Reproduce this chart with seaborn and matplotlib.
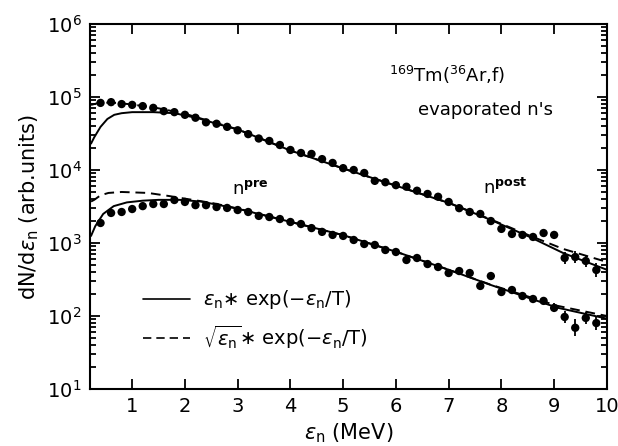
import numpy as np
import pandas as pd
import matplotlib
matplotlib.use("Agg")
import matplotlib.pyplot as plt
from matplotlib.lines import Line2D
from matplotlib.ticker import LogLocator, NullFormatter
import seaborn as sns

# measured spectra (points every 0.2 MeV) ----
energy = [0.4, 0.6, 0.8, 1.0, 1.2, 1.4, 1.6, 1.8, 2.0, 2.2, 2.4, 2.6, 2.8, 3.0, 3.2, 3.4,
          3.6, 3.8, 4.0, 4.2, 4.4, 4.6, 4.8, 5.0, 5.2, 5.4, 5.6, 5.8, 6.0, 6.2, 6.4, 6.6,
          6.8, 7.0, 7.2, 7.4, 7.6, 7.8, 8.0, 8.2, 8.4, 8.6, 8.8, 9.0, 9.2, 9.4, 9.6, 9.8]

upper = [8.3e4, 8.5e4, 8.0e4, 7.8e4, 7.5e4, 7.1e4, 6.4e4, 6.2e4, 5.7e4, 5.2e4, 4.5e4, 4.3e4,
         3.9e4, 3.5e4, 3.1e4, 2.7e4, 2.5e4, 2.2e4, 1.88e4, 1.71e4, 1.66e4, 1.41e4, 1.25e4,
         1.06e4, 1.0e4, 9.1e3, 7.1e3, 6.8e3, 6.2e3, 5.9e3, 5.2e3, 4.7e3, 4.3e3, 3.65e3,
         3.0e3, 2.66e3, 2.5e3, 2.0e3, 1.56e3, 1.33e3, 1.29e3, 1.21e3, 1.37e3, 1.29e3,
         624, 643, 567, 427]

lower = [1.88e3, 2.58e3, 2.66e3, 2.92e3, 3.2e3, 3.42e3, 3.42e3, 3.88e3, 3.65e3, 3.3e3, 3.3e3,
         3.11e3, 3.02e3, 2.83e3, 2.66e3, 2.35e3, 2.27e3, 2.13e3, 1.94e3, 1.82e3, 1.6e3, 1.42e3,
         1.29e3, 1.25e3, 1.1e3, 969, 940, 802, 753, 585, 623, 515, 469, 388, 413, 388, 258,
         353, 213, 227, 188, 171, 161, 129, 97, 69, 94, 80]

# relative error bars on the last few points
upper_err_E = [9.2, 9.4, 9.6, 9.8]
upper_err = [0.2, 0.2, 0.2, 0.25]
lower_err_E = [9.0, 9.2, 9.4, 9.6, 9.8]
lower_err = [0.15, 0.2, 0.3, 0.2, 0.25]

# fitted curves ----
up_solid_E = [0.22, 0.28, 0.4, 0.53, 0.66, 0.8, 1.0, 1.4, 1.8, 2.05, 2.3, 2.6, 3.0, 4, 5, 6, 7, 7.8, 8.55, 9.17, 10]
up_solid = [2.3e4, 2.8e4, 3.9e4, 5.0e4, 5.7e4, 6.0e4, 6.2e4, 6.2e4, 6.0e4, 5.5e4, 5.0e4, 4.3e4, 3.6e4,
            1.85e4, 1.05e4, 6.1e3, 3.55e3, 2.07e3, 1.2e3, 730, 430]
up_dash_E = [0.22, 0.4, 0.7, 1.0, 1.5, 2.0, 2.5, 3.0, 4, 5, 6, 7, 7.8, 8.55, 9.17, 10]
up_dash = [7.8e4, 8.4e4, 8.3e4, 7.9e4, 7.0e4, 5.9e4, 4.6e4, 3.6e4, 1.85e4, 1.05e4, 6.1e3, 3.55e3,
           2.1e3, 1.25e3, 830, 550]
lo_solid_E = [0.22, 0.3, 0.45, 0.65, 0.9, 1.2, 1.5, 1.9, 2.3, 3.0, 4, 5, 6, 7, 7.8, 9.06, 10]
lo_solid = [1.25e3, 1.7e3, 2.5e3, 3.2e3, 3.6e3, 3.8e3, 3.9e3, 3.9e3, 3.7e3, 2.95e3, 1.95e3, 1.28e3,
            760, 430, 266, 130, 92]
lo_dash_E = [0.22, 0.28, 0.4, 0.55, 0.8, 1.3, 1.7, 2.0, 2.5, 3.0, 4, 5, 6, 7, 7.8, 9.06, 10]
lo_dash = [3.7e3, 3.9e3, 4.5e3, 4.85e3, 5.0e3, 4.85e3, 4.4e3, 4.05e3, 3.55e3, 2.97e3, 1.95e3, 1.28e3,
           760, 430, 268, 138, 100]

curves = pd.concat([
    pd.DataFrame({'E': up_solid_E, 'y': up_solid, 'curve': 'up_solid', 'kind': 'solid'}),
    pd.DataFrame({'E': up_dash_E, 'y': up_dash, 'curve': 'up_dash', 'kind': 'dashed'}),
    pd.DataFrame({'E': lo_solid_E, 'y': lo_solid, 'curve': 'lo_solid', 'kind': 'solid'}),
    pd.DataFrame({'E': lo_dash_E, 'y': lo_dash, 'curve': 'lo_dash', 'kind': 'dashed'}),
], ignore_index=True)

sns.set_style("ticks", {'axes.edgecolor': 'black', 'text.color': 'black', 'axes.labelcolor': 'black',
                        'xtick.color': 'black', 'ytick.color': 'black'})
plt.rcParams['font.family'] = ['DejaVu Sans']
plt.rcParams['mathtext.fontset'] = 'dejavusans'

fig = plt.figure(figsize=(6.18, 4.46), dpi=100)
ax = fig.add_axes([0.1456, 0.1278, 0.8364, 0.8184])

sns.lineplot(data=curves, x='E', y='y', units='curve', style='kind', estimator=None, sort=False,
             color='black', linewidth=1.4, dashes={'solid': '', 'dashed': (5, 3)}, legend=False, ax=ax)

sns.scatterplot(x=energy, y=upper, color='black', s=36, edgecolor='none', zorder=3, ax=ax)
sns.scatterplot(x=energy, y=lower, color='black', s=36, edgecolor='none', zorder=3, ax=ax)

# error bars
for E_list, rel, series in [(upper_err_E, upper_err, upper), (lower_err_E, lower_err, lower)]:
    yv = np.array([series[energy.index(e)] for e in E_list])
    r = np.array(rel)
    ax.errorbar(E_list, yv, yerr=[yv * r / (1 + r), yv * r], fmt='none', ecolor='black',
                elinewidth=1.3, capsize=0, zorder=3)

ax.set_yscale('log')
ax.set_xlim(0.2, 10)
ax.set_ylim(10, 1e6)
ax.set_xticks(range(1, 11))
ax.yaxis.set_minor_locator(LogLocator(base=10, subs=np.arange(2, 10), numticks=20))
ax.yaxis.set_minor_formatter(NullFormatter())
ax.tick_params(which='both', direction='in', top=True, right=True, width=1.3, labelsize=14)
ax.tick_params(which='major', length=7, pad=6)
ax.tick_params(which='minor', length=4)
for s in ax.spines.values():
    s.set_linewidth(1.5)

ax.set_xlabel(r'$\varepsilon_\mathrm{n}$ (MeV)', fontsize=15, labelpad=4)
ax.set_ylabel(r'dN/d$\varepsilon_\mathrm{n}$ (arb.units)', fontsize=15, labelpad=4)

ax.text(0.69, 0.86, r'$^{169}$Tm($^{36}$Ar,f)', transform=ax.transAxes, fontsize=13, ha='center', va='center')
ax.text(0.766, 0.764, "evaporated n's", transform=ax.transAxes, fontsize=13, ha='center', va='center')
ax.text(0.31, 0.545, r'n$^\mathbf{pre}$', transform=ax.transAxes, fontsize=13, ha='center', va='center')
ax.text(0.803, 0.55, r'n$^\mathbf{post}$', transform=ax.transAxes, fontsize=13, ha='center', va='center')

handles = [Line2D([], [], color='black', lw=1.2),
           Line2D([], [], color='black', lw=1.2, dashes=(5, 3))]
labels = [r'$\varepsilon_\mathrm{n}{\ast}$ exp($-\varepsilon_\mathrm{n}$/T)',
          r'$\sqrt{\varepsilon_\mathrm{n}}{\ast}$ exp($-\varepsilon_\mathrm{n}$/T)']
ax.legend(handles, labels, loc='center left', bbox_to_anchor=(0.1025, 0.19), frameon=False,
          borderpad=0, borderaxespad=0, handlelength=2.4, handletextpad=0.7, labelspacing=0.6,
          fontsize=14)

fig.savefig('out.png', dpi=100)
